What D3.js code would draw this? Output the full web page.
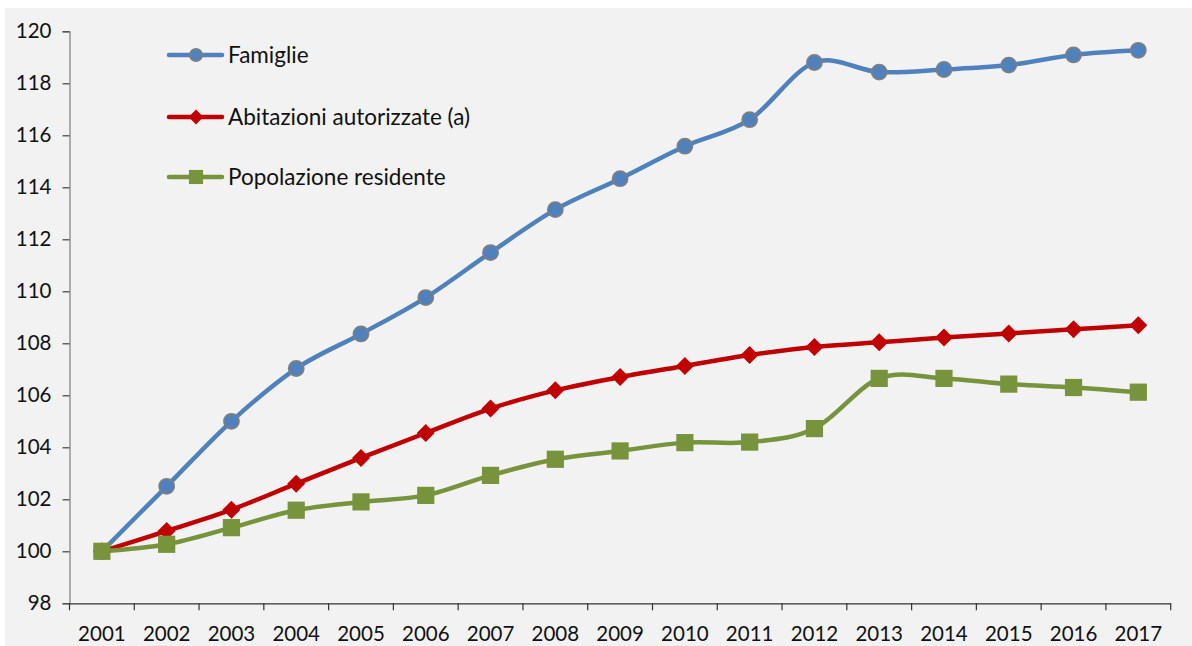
<!DOCTYPE html>
<html><head><meta charset="utf-8">
<script src="https://cdn.jsdelivr.net/npm/d3@7"></script>
<style>
html,body{margin:0;padding:0;background:#fff;}
svg{display:block;font-family:Lato, "Open Sans", sans-serif;}
</style></head>
<body>
<svg id="c" width="1192" height="646"></svg>
<script>
const years = ["2001","2002","2003","2004","2005","2006","2007","2008","2009","2010","2011","2012","2013","2014","2015","2016","2017"];
const famiglie = [100,102.5,105.0,107.03,108.36,109.76,111.49,113.14,114.33,115.58,116.6,118.8,118.43,118.53,118.7,119.09,119.27];
const abitazioni = [100,100.78,101.6,102.6,103.59,104.55,105.49,106.19,106.7,107.13,107.55,107.86,108.04,108.22,108.38,108.54,108.69];
const popolazione = [100,100.27,100.91,101.58,101.9,102.15,102.92,103.54,103.86,104.18,104.2,104.72,106.65,106.65,106.43,106.3,106.12];
const seriesNames = ["Famiglie","Abitazioni autorizzate (a)","Popolazione residente"];
const yTicks = [98,100,102,104,106,108,110,112,114,116,118,120];

(function(){
const svg = d3.select("#c");
svg.append("rect").attr("x",5).attr("y",8).attr("width",1187).attr("height",638).attr("fill","#f2f2f2");

const pL=69.5, pR=1170.7, pT=31.3, pB=603.3;
const x = d3.scaleBand().domain(years).range([pL,pR]).padding(0);
const y = d3.scaleLinear().domain([98,120]).range([pB,pT]);

// Y axis
const yAx = svg.append("g").attr("transform",`translate(${pL},0)`)
  .call(d3.axisLeft(y).tickValues(yTicks).tickSize(7).tickPadding(11).tickFormat(d3.format("d")));
yAx.select(".domain").attr("stroke","#868686").attr("stroke-width",1.3);
yAx.selectAll(".tick line").attr("stroke","#404040").attr("stroke-width",1.2);
yAx.selectAll("text").attr("font-size",20.5).attr("fill","#111").attr("font-family","Lato, sans-serif");

// X axis with ticks between categories
const xAx = svg.append("g").attr("transform",`translate(0,${pB})`)
  .call(d3.axisBottom(x).tickSize(0).tickPadding(23));
xAx.select(".domain").attr("stroke","#333").attr("stroke-width",1.3);
xAx.selectAll("text").attr("font-size",20.5).attr("fill","#111").attr("font-family","Lato, sans-serif");
const edges = years.map(d=>x(d)).concat([x(years[years.length-1])+x.bandwidth()]);
xAx.selectAll(".edge").data(edges).join("line").attr("class","edge")
  .attr("x1",d=>d).attr("x2",d=>d).attr("y1",0).attr("y2",7)
  .attr("stroke","#333").attr("stroke-width",1.2);

const cx = d => x(d) + x.bandwidth()/2;
const line = d3.line().x((d,i)=>cx(years[i])).y(d=>y(d)).curve(d3.curveCardinal.tension(0));

const colors = ["#4f81bd","#c00000","#77933c"];
const datas = [famiglie, abitazioni, popolazione];

datas.forEach((arr,k)=>{
  svg.append("path").datum(arr).attr("d",line).attr("fill","none")
    .attr("stroke",colors[k]).attr("stroke-width",4.5).attr("stroke-linejoin","round").attr("stroke-linecap","round");
});

function marker(g,k,px,py,s){
  if(k===0){
    g.append("circle").attr("cx",px).attr("cy",py).attr("r",7.6*s)
      .attr("fill",colors[0]).attr("stroke","#7f7f7f").attr("stroke-width",1.6);
  } else if(k===1){
    const h=9*s;
    g.append("path").attr("d",`M${px},${py-h}L${px+h},${py}L${px},${py+h}L${px-h},${py}Z`).attr("fill",colors[1]);
  } else {
    const h=8.6*s;
    g.append("rect").attr("x",px-h).attr("y",py-h).attr("width",2*h).attr("height",2*h).attr("fill",colors[2]);
  }
}

datas.forEach((arr,k)=>{
  const g = svg.append("g");
  arr.forEach((v,i)=>marker(g,k,cx(years[i]),y(v),1));
});

// Legend
const legY=[55,117,177];
seriesNames.forEach((n,k)=>{
  const g=svg.append("g");
  g.append("line").attr("x1",169).attr("x2",222).attr("y1",legY[k]).attr("y2",legY[k])
    .attr("stroke",colors[k]).attr("stroke-width",4.5).attr("stroke-linecap","round");
  marker(g,k,196,legY[k],0.82);
  g.append("text").attr("x",228).attr("y",legY[k]).attr("dy","0.36em")
    .attr("font-size",22.5).attr("fill","#111").text(n);
});
})();
</script>
</body></html>
